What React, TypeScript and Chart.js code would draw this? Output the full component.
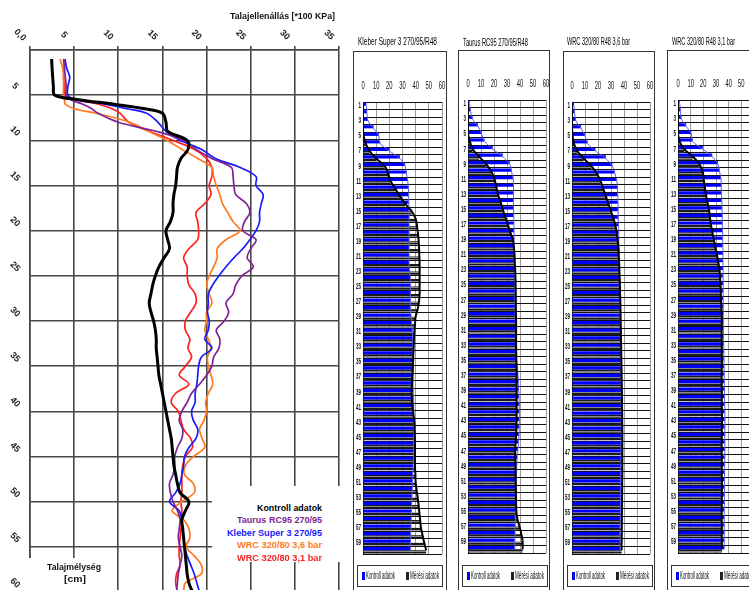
import React, { useEffect, useRef } from "react";
import { Chart, registerables } from "chart.js";
Chart.register(...registerables);

// ---------------- Left chart data (Talajellenállás vs. Talajmélység) ----------------
const depths = [1, 2, 3, 4, 5, 5.5, 6, 6.5, 7,
  8, 9, 10, 11, 12, 13, 14, 15, 16, 17, 18, 19, 20, 21, 22, 23, 24, 25, 26, 27, 28, 29, 30,
  31, 32, 33, 34, 35, 36, 37, 38, 39, 40, 41, 42, 43, 44, 45, 46, 47, 48, 49, 50,
  51, 52, 53, 54, 55, 56, 57, 58, 59, 60];

const kontrollValues = [2.45, 2.5, 2.57, 2.65, 2.8, 5.5, 9.5, 13, 15,
  15.4, 15.6, 17.8, 17.9, 17.1, 16.7, 16.6, 16.5, 16.3, 16.2, 16.2, 15.9, 15.4,
  15.6, 15.8, 15.2, 14.6, 14.2, 13.9, 13.7, 13.5, 13.7, 14.0,
  14.2, 14.3, 14.3, 14.4, 14.5, 14.6, 14.8, 15.0, 15.2, 15.4,
  15.6, 15.8, 16.0, 16.1, 16.2, 16.3, 16.5, 16.7, 17.0, 18.0,
  17.6, 17.2, 17.3, 17.4, 17.5, 17.6, 17.7, 17.8, 18.0, 18.4];

const taurusValues = [3.8, 3.9, 4.0, 4.1, 4.1, 4.6, 6.0, 7.0, 7.7,
  10.0, 14.3, 17.4, 18.8, 20.6, 22.8, 23.0, 23.1, 23.3, 24.5, 24.9, 24.3, 24.1,
  25.6, 25.0, 24.6, 25.3, 24.0, 23.3, 23.0, 22.2, 22.5, 22.0,
  21.1, 21.5, 21.4, 20.8, 20.6, 20.0, 19.2, 18.3, 17.8, 17.2,
  16.9, 17.3, 17.2, 16.7, 16.4, 16.4, 16.2, 15.8, 15.9, 16.2,
  16.7, 17.0, 16.9, 16.8, 17.0, 17.2, 17.0, 16.8, 16.7, 16.6];

const kleberValues = [3.96, 4.15, 4.5, 4.3, 4.3, 5.2, 8.5, 11, 13.2,
  14.5, 15.4, 17.0, 19.4, 21.0, 23.8, 25.6, 25.6, 26.4, 26.2, 26.0, 26.0, 25.6,
  24.9, 24.1, 23.1, 22.2, 21.4, 20.7, 20.2, 20.2, 20.1, 20.3,
  20.2, 19.8, 20.6, 19.4, 19.1, 19.0, 18.9, 18.7, 18.7, 18.3,
  18.5, 19.0, 18.8, 18.0, 17.5, 17.4, 17.2, 17.0, 16.5, 15.8,
  16.9, 17.2, 17.3, 17.4, 17.5, 17.8, 18.2, 18.6, 18.9, 19.2];

const wrc36Values = [3.4, 3.7, 3.8, 3.8, 3.8, 3.9, 4.0, 5.0, 7.5,
  11.3, 13.4, 15.5, 17.2, 19.0, 20.6, 20.8, 21.1, 21.5, 21.8, 22.4, 23.0, 23.8,
  22.2, 21.2, 21.2, 20.8, 20.3, 20.0, 20.3, 20.6, 20.0, 20.0,
  19.8, 20.2, 20.5, 20.1, 20.2, 20.5, 20.7, 20.2, 19.9, 20.0,
  19.7, 19.2, 19.5, 19.8, 18.5, 17.6, 17.5, 18.5, 18.6, 17.2,
  16.1, 17.4, 18.0, 18.1, 17.7, 18.6, 19.4, 19.4, 17.6, 17.4];

const wrc31Values = [4.0, 3.9, 3.8, 3.9, 4.0, 5.2, 7.8, 9.3, 10.2,
  11.2, 13.5, 16.2, 18.6, 20.0, 20.6, 20.6, 20.3, 20.5, 19.8, 18.8, 19.0, 19.1,
  19.0, 18.0, 17.4, 17.8, 17.8, 18.0, 18.7, 18.8, 18.2, 17.6,
  17.6, 18.1, 17.9, 18.3, 17.6, 16.9, 18.0, 16.5, 16.0, 16.8,
  17.1, 17.4, 18.2, 18.4, 17.6, 17.3, 17.2, 17.2, 17.2, 17.1,
  17.2, 17.2, 17.1, 17.0, 16.9, 16.9, 17.0, 16.6, 16.5, 16.7];

const seriesNames = ["Kontroll adatok", "Taurus RC95 270/95", "Kleber Super 3 270/95", "WRC 320/80 3,6 bar", "WRC 320/80 3,1 bar"];
const seriesColors = ["#000000", "#7d2396", "#1a1aff", "#ff7a1c", "#ff2020"];

const xTickValues = [0, 5, 10, 15, 20, 25, 30, 35];
const xTickLabels = ["0,0", "5", "10", "15", "20", "25", "30", "35"];
const yTickValues = [5, 10, 15, 20, 25, 30, 35, 40, 45, 50, 55, 60];
const yTickLabels = ["5", "10", "15", "20", "25", "30", "35", "40", "45", "50", "55", "60"];

const leftTitle = "Talajellenállás [*100 KPa]";
const leftYTitle1 = "Talajmélység";
const leftYTitle2 = "[cm]";

// ---------------- Right panels data (depth 1..60) ----------------
const panelDepthLabels = Array.from({ length: 60 }, (_, i) => String(i + 1));
const panelXTicks = [0, 10, 20, 30, 40, 50, 60];
const panelLegend = ["Kontroll adatok", "Mérési adatok"];
const panelTitles = ["Kleber Super 3 270/95/R48", "Taurus RC95 270/95/R48", "WRC 320/80 R48 3,6 bar", "WRC 320/80 R48 3,1 bar"];

const kleberKontroll = [
  2.5, 3, 3.8, 8, 12, 13, 20, 28, 32, 33,
  34, 34.5, 34.7, 34.8, 35, 35, 35, 35, 35, 35,
  35, 35, 35.5, 36, 36, 36, 36, 36, 36.5, 37,
  37.5, 37.7, 37.7, 37.7, 37.7, 37.8, 38, 38, 38.2, 38.5,
  38.5, 38.5, 38.5, 38.5, 38.5, 38.5, 38.5, 38.3, 38, 37.8,
  37.6, 37.4, 37.2, 37, 36.8, 36.6, 36.4, 36.2, 36, 36];
const kleberMeres = [
  0, 0, 0, 0, 0.5, 2, 5, 10, 16.5, 19,
  21, 24.5, 28, 32, 37, 40, 41, 41.8, 42.3, 42.6,
  42.8, 43, 43, 43, 43, 43, 42.5, 41.5, 40, 39.5,
  39, 38.7, 38.5, 38.2, 38, 37.8, 37.5, 37.2, 37, 37.2,
  37.7, 38.3, 39, 39.2, 39.4, 39.5, 39.5, 39.5, 39.5, 39.8,
  40, 40.7, 41.5, 42.2, 42.8, 43.4, 44, 45.2, 46.5, 48];
const taurusKontroll = [
  1.2, 2, 3.5, 7.7, 10.5, 12.7, 19, 26.7, 32, 33.5,
  34.8, 35, 35, 35, 35, 35.2, 35.3, 35.4, 35.5, 35.5,
  35.6, 35.7, 35.8, 35.9, 36, 36, 36.1, 36.2, 36.3, 36.5,
  36.6, 36.8, 37, 37.2, 37.4, 38, 38.5, 38.8, 39, 39.3,
  39.5, 39.5, 39.5, 39.4, 39.2, 38.8, 38.3, 37.8, 37.5, 37.3,
  37, 36.9, 36.8, 36.7, 36.5, 36.4, 36.3, 36.2, 36, 36];
const taurusMeres = [
  0, 0, 0, 0, 0, 1.5, 3.5, 8.5, 14, 18,
  20.4, 21.8, 23, 25, 26.8, 28.7, 30.6, 32.5, 34.5, 35.3,
  35.8, 36, 36.3, 36.5, 36.6, 36.7, 36.8, 36.8, 36.9, 37,
  37, 37, 37, 37.1, 37.2, 37.3, 37.4, 37.4, 37.4, 37.4,
  37.4, 37.4, 37.4, 37.2, 37, 36.6, 36.3, 36.4, 36.5, 36.6,
  36.7, 36.8, 36.9, 37, 37.2, 38, 39.6, 41, 42, 42];
const wrc36Kontroll = [
  1.5, 2, 3, 7, 10, 12, 18, 26, 31, 33,
  34.5, 35, 35.2, 35.4, 35.5, 35.6, 35.8, 36, 36, 36.2,
  36.3, 36.4, 36.5, 36.6, 36.7, 36.8, 36.9, 37, 37, 37.1,
  37.2, 37.3, 37.4, 37.5, 37.6, 37.7, 37.8, 37.9, 38, 38,
  38, 38, 38, 38, 37.9, 37.8, 37.8, 37.7, 37.6, 37.5,
  37.4, 37.4, 37.3, 37.2, 37.2, 37.1, 37, 37, 37, 37];
const wrc36Meres = [
  0, 0, 0, 0, 0.5, 1.5, 4, 9, 15, 19,
  22, 24, 26, 28, 30, 32, 33.5, 34.5, 35.2, 35.7,
  36, 36.3, 36.5, 36.7, 36.9, 37, 37.2, 37.3, 37.4, 37.5,
  37.6, 37.7, 37.8, 37.9, 38, 38.1, 38.2, 38.3, 38.4, 38.5,
  38.5, 38.6, 38.6, 38.7, 38.7, 38.7, 38.7, 38.7, 38.7, 38.7,
  38.6, 38.6, 38.5, 38.5, 38.4, 38.4, 38.3, 38.3, 38.2, 38.2];
const wrc31Kontroll = [
  1.3, 2, 2.6, 6.5, 10.5, 11.6, 19.5, 27, 31.5, 32.8,
  34, 34.2, 34.4, 34.6, 34.8, 35, 35, 35.2, 35.3, 35.4,
  35.5, 35.5, 35.6, 35.6, 35.7, 35.7, 35.7, 35.7, 35.7, 35.8,
  35.9, 36, 36.1, 36.2, 36.3, 36.4, 36.5, 36.6, 36.7, 36.8,
  36.9, 37, 37, 37, 37, 37, 37, 36.9, 36.8, 36.8,
  36.7, 36.7, 36.6, 36.6, 36.5, 36.5, 36.5, 36.5, 36.5, 36.5];
const wrc31Meres = [
  0, 0, 0, 0, 0, 1.3, 5, 11.7, 17, 19.5,
  20.3, 21.2, 22, 23.2, 24.4, 25.2, 26, 27.1, 28.3, 29.5,
  30.7, 31.8, 32.8, 33.2, 33.6, 33.8, 34, 34.3, 34.6, 34.6,
  34.5, 34.5, 34.6, 34.6, 34.7, 34.6, 34.5, 34.5, 34.6, 34.6,
  34.6, 34.7, 34.7, 34.6, 34.6, 34.5, 34.5, 34.6, 34.6, 34.6,
  34.7, 34.7, 34.6, 34.6, 34.5, 34.5, 34.6, 34.6, 34.6, 34.7];

const panelKontroll = [kleberKontroll, taurusKontroll, wrc36Kontroll, wrc31Kontroll];
const panelMeres = [kleberMeres, taurusMeres, wrc36Meres, wrc31Meres];

// ---------------- layout (styling only) ----------------
const FAMILY = "'Liberation Sans', Arial, sans-serif";
const panelGeom = [
  { L: 353, T: 51, W: 94, canvasLeft: 354, canvasW: 92, plotLeft: 363, plotRight: 442, plotTop: 102, plotBottom: 554, titleX: 358, titleW: 79, titleY: 42 },
  { L: 458, T: 50, W: 92, canvasLeft: 459, canvasW: 90, plotLeft: 468, plotRight: 546, plotTop: 100, plotBottom: 553, titleX: 463, titleW: 65, titleY: 43 },
  { L: 563, T: 51, W: 92, canvasLeft: 564, canvasW: 90, plotLeft: 572, plotRight: 650, plotTop: 102, plotBottom: 554, titleX: 567, titleW: 63, titleY: 42 },
  { L: 667, T: 50, W: 100, canvasLeft: 668, canvasW: 95, plotLeft: 678, plotRight: 754, plotTop: 100, plotBottom: 553, titleX: 672, titleW: 63, titleY: 42 },
];

let _mctx: CanvasRenderingContext2D | null = null;
function measure(text: string, font: string) {
  if (!_mctx) _mctx = document.createElement("canvas").getContext("2d");
  _mctx!.font = font;
  return _mctx!.measureText(text).width;
}

function FitText({ text, x, cy, w, size, bold = false, color = "#000", align = "left" }: any) {
  const font = `${bold ? "bold " : ""}${size}px ${FAMILY}`;
  const nat = measure(text, font) || 1;
  const s = w / nat;
  const left = align === "left" ? x : align === "right" ? x - w : x - w / 2;
  return (
    <div style={{ position: "absolute", left, top: cy - size * 0.6, font, lineHeight: `${size * 1.2}px`, color, whiteSpace: "nowrap", transform: `scaleX(${s})`, transformOrigin: "0 50%" }}>{text}</div>
  );
}

function drawScaled(ctx: CanvasRenderingContext2D, t: string, x: number, y: number, s: number, align: CanvasTextAlign) {
  ctx.save();
  ctx.translate(x, y);
  ctx.scale(s, 1);
  ctx.textAlign = align;
  ctx.fillText(t, 0, 0);
  ctx.restore();
}

function LeftChart() {
  const ref = useRef<HTMLCanvasElement>(null);
  useEffect(() => {
    const allValues = [kontrollValues, taurusValues, kleberValues, wrc36Values, wrc31Values];
    const gridColor = "#474747";
    const tickPlugin = {
      id: "leftTicks",
      afterDraw(chart: any) {
        const ctx = chart.ctx;
        const xs = chart.scales.x;
        const ys = chart.scales.y;
        ctx.save();
        ctx.font = `bold 9px ${FAMILY}`;
        ctx.fillStyle = "#222";
        ctx.textAlign = "center";
        ctx.textBaseline = "middle";
        xTickValues.forEach((v, i) => {
          const px = xs.getPixelForValue(v);
          ctx.save();
          ctx.translate(px - 10, 35);
          ctx.rotate(Math.PI / 4);
          ctx.fillText(xTickLabels[i], 0, 0);
          ctx.restore();
        });
        yTickValues.forEach((v, i) => {
          const py = ys.getPixelForValue(v);
          ctx.save();
          ctx.translate(15, py - 9);
          ctx.rotate(Math.PI / 4);
          ctx.fillText(yTickLabels[i], 0, 0);
          ctx.restore();
        });
        ctx.restore();
      },
    };
    const chart = new Chart(ref.current!, {
      type: "line",
      data: {
        datasets: allValues.map((vals, k) => ({
          label: seriesNames[k],
          data: depths.map((d, i) => ({ x: vals[i], y: d })),
          borderColor: seriesColors[k],
          backgroundColor: seriesColors[k],
          borderWidth: k === 0 ? 3 : 1.7,
          pointRadius: 0,
          tension: 0.35,
          fill: false,
        })),
      },
      options: {
        indexAxis: "y",
        animation: false,
        responsive: false,
        events: [],
        layout: { padding: { left: 30, top: 46, right: 6, bottom: 8 } },
        plugins: { legend: { display: false }, tooltip: { enabled: false } },
        scales: {
          x: {
            type: "linear", position: "top", min: 0, max: 35,
            ticks: { display: false, stepSize: 5 },
            grid: { color: gridColor, lineWidth: 1.6, drawTicks: true, tickLength: 4 },
            border: { display: true, color: gridColor, width: 1.6 },
            afterFit: (s: any) => { s.height = 4; },
          },
          y: {
            type: "linear", min: 0, max: 60, reverse: true,
            ticks: { display: false, stepSize: 5 },
            grid: { color: gridColor, lineWidth: 1.6, drawTicks: false },
            border: { display: true, color: gridColor, width: 1.6 },
            afterFit: (s: any) => { s.width = 0; },
          },
        },
      } as any,
      plugins: [tickPlugin],
    } as any);
    return () => chart.destroy();
  }, []);
  return <canvas ref={ref} width={345} height={600} style={{ position: "absolute", left: 0, top: 0, width: 345, height: 600 }} />;
}

function PanelChart({ idx }: any) {
  const ref = useRef<HTMLCanvasElement>(null);
  const g = panelGeom[idx];
  const CH = 500, CT = 60;
  useEffect(() => {
    const canvas = ref.current!;
    const c2 = canvas.getContext("2d")!;
    const pc = document.createElement("canvas");
    pc.width = 1; pc.height = 3;
    const pg = pc.getContext("2d")!;
    pg.fillStyle = "#1a1a1a"; pg.fillRect(0, 0, 1, 2);
    pg.fillStyle = "#8a8a8a"; pg.fillRect(0, 2, 1, 1);
    const stripe = c2.createPattern(pc, "repeat");
    const yW = g.plotLeft - g.canvasLeft;
    const xH = g.plotTop - CT;
    const padR = g.canvasLeft + g.canvasW - g.plotRight;
    const padB = CT + CH - g.plotBottom;
    const tickPlugin = {
      id: "panelTicks",
      afterDraw(chart: any) {
        const ctx = chart.ctx;
        const { chartArea } = chart;
        const xs = chart.scales.x;
        const ys = chart.scales.y;
        ctx.save();
        ctx.fillStyle = "#111";
        ctx.textBaseline = "middle";
        ctx.font = `10px ${FAMILY}`;
        panelXTicks.forEach((v) => {
          drawScaled(ctx, String(v), xs.getPixelForValue(v), chartArea.top - 16, 0.58, "center");
        });
        ctx.font = `bold 9px ${FAMILY}`;
        panelDepthLabels.forEach((lab, i) => {
          if (i % 2 === 0) drawScaled(ctx, lab, chartArea.left - 2, ys.getPixelForValue(i), 0.5, "right");
        });
        ctx.restore();
      },
    };
    const chart = new Chart(canvas, {
      type: "bar",
      data: {
        labels: panelDepthLabels,
        datasets: [
          { type: "line", label: panelLegend[1], data: panelMeres[idx], borderColor: "#000", borderWidth: 2, pointRadius: 0, tension: 0.4, order: 0 },
          { type: "line", label: panelLegend[0], data: panelKontroll[idx], borderColor: "#5a5aff", borderWidth: 1, pointRadius: 0, tension: 0.3, order: 0 },
          { label: panelLegend[0], data: panelKontroll[idx], backgroundColor: "#0000ff", barPercentage: 1, categoryPercentage: 0.84, order: 1 },
          { label: panelLegend[1], data: panelMeres[idx], backgroundColor: stripe, barPercentage: 1, categoryPercentage: 0.84, order: 1 },
        ],
      },
      options: {
        indexAxis: "y",
        animation: false,
        responsive: false,
        events: [],
        layout: { padding: { left: 0, top: 0, right: padR, bottom: padB } },
        plugins: { legend: { display: false }, tooltip: { enabled: false } },
        scales: {
          x: {
            type: "linear", position: "top", min: 0, max: 60,
            ticks: { display: false, stepSize: 10 },
            grid: { color: "#9a9a9a", lineWidth: 1, drawTicks: false },
            border: { display: false },
            afterFit: (s: any) => { s.height = xH; },
          },
          y: {
            type: "category",
            ticks: { display: false, autoSkip: false },
            grid: { color: "#111", lineWidth: 1, drawTicks: false, offset: true },
            border: { display: true, color: "#111" },
            afterFit: (s: any) => { s.width = yW; },
          },
        },
      } as any,
      plugins: [tickPlugin],
    } as any);
    return () => chart.destroy();
  }, []);
  return <canvas ref={ref} width={g.canvasW} height={CH} style={{ position: "absolute", left: g.canvasLeft, top: CT, width: g.canvasW, height: CH }} />;
}

function Panel({ idx }: any) {
  const g = panelGeom[idx];
  return (
    <>
      <div style={{ position: "absolute", left: g.L, top: g.T, width: g.W, height: 600, border: "1px solid #333", boxSizing: "border-box" }} />
      <FitText text={panelTitles[idx]} x={g.titleX} cy={g.titleY} w={g.titleW} size={11.5} />
      <PanelChart idx={idx} />
      <div style={{ position: "absolute", left: g.L + 4, top: 565, width: 86, height: 22, border: "1px solid #333", boxSizing: "border-box", background: "#fff" }} />
      <div style={{ position: "absolute", left: g.L + 9, top: 572, width: 3, height: 8, background: "#0000ff" }} />
      <FitText text={panelLegend[0]} x={g.L + 13} cy={576} w={29} size={10} color="#111" />
      <div style={{ position: "absolute", left: g.L + 53, top: 572, width: 3, height: 8, background: "#222" }} />
      <FitText text={panelLegend[1]} x={g.L + 57} cy={576} w={29} size={10} color="#111" />
    </>
  );
}

export default function App() {
  const legendY = [508, 520.5, 533, 545.5, 558];
  const legendW = [65, 85, 95, 85, 85];
  return (
    <div style={{ position: "fixed", left: 0, top: 0, width: 749, height: 590, overflow: "hidden", background: "#fff" }}>
      <LeftChart />
      <FitText text={leftTitle} x={335} cy={16} w={105} size={9} bold align="right" color="#111" />
      <div style={{ position: "absolute", left: 212, top: 486, width: 133, height: 76, background: "#fff" }} />
      {seriesNames.map((n, k) => (
        <FitText key={n} text={n} x={322} cy={legendY[k]} w={legendW[k]} size={9} bold align="right" color={seriesColors[k]} />
      ))}
      <div style={{ position: "absolute", left: 29, top: 558, width: 84, height: 40, background: "#fff" }} />
      <FitText text={leftYTitle1} x={74} cy={567} w={54} size={9} bold align="center" color="#111" />
      <FitText text={leftYTitle2} x={75} cy={579} w={22} size={9} bold align="center" color="#111" />
      {[0, 1, 2, 3].map((i) => <Panel key={i} idx={i} />)}
    </div>
  );
}
